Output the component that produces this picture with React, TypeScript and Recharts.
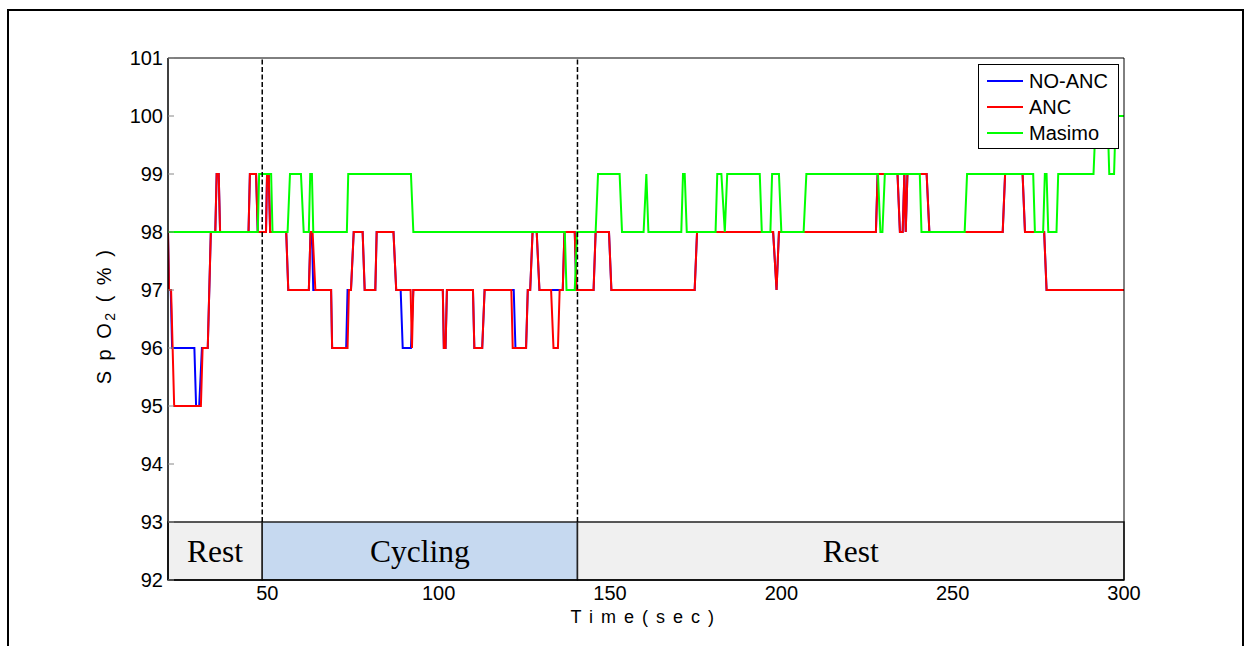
import React from "react";
import { LineChart, Line, XAxis, YAxis, ReferenceLine, ReferenceArea, Label } from "recharts";

const xTicks = [50, 100, 150, 200, 250, 300];
const yTicks = [92, 93, 94, 95, 96, 97, 98, 99, 100, 101];

// [time (s), SpO2 (%)] corners of each trace
const noAncPts: [number, number][] = [
  [21, 98], [21.3, 97], [21.8, 97], [22.2, 96], [28.7, 96], [29.2, 95], [30.1, 95], [30.9, 96],
  [32.6, 96], [33.5, 98], [34.8, 98], [35.2, 99], [35.8, 99], [36.2, 98], [44.5, 98], [44.9, 99],
  [46.7, 99], [47.2, 98], [49.6, 98], [49.9, 99], [50.4, 99], [50.8, 98], [55.5, 98], [56.1, 97],
  [62.1, 97], [62.6, 98], [63.0, 98], [63.4, 97], [68.6, 97], [68.9, 96], [73.0, 96], [73.4, 97],
  [74.4, 97], [75.2, 98], [77.8, 98], [78.4, 97], [81.5, 97], [81.9, 98], [86.8, 98], [87.6, 97],
  [88.9, 97], [89.5, 96], [91.9, 96], [92.6, 97], [101.2, 97], [101.5, 96], [102, 96], [102.4, 97],
  [110, 97], [110.4, 96], [112.7, 96], [113.4, 97], [121.9, 97], [122.4, 96], [125.5, 96], [126, 97],
  [126.7, 97], [127.4, 98], [128.6, 98], [129.4, 97], [136.2, 97], [136.7, 98], [139.7, 98], [140.2, 97],
  [145.2, 97], [145.8, 98], [149.7, 98], [150.4, 97], [174.7, 97], [175.4, 98], [197.6, 98], [198.6, 97],
  [199.3, 98], [227.6, 98], [228.1, 99], [233.9, 99], [234.6, 98], [235.4, 98], [235.9, 99], [236.3, 98],
  [236.8, 99], [242.4, 99], [243.2, 98], [264.6, 98], [265.3, 99], [270.4, 99], [271.1, 98], [276.7, 98],
  [277.4, 97], [300, 97],
];

const ancPts: [number, number][] = [
  [21, 98], [21.3, 97], [21.9, 97], [22.8, 95], [30.6, 95], [31.1, 96], [32.6, 96], [33.5, 98],
  [34.8, 98], [35.2, 99], [35.8, 99], [36.2, 98], [44.5, 98], [44.9, 99], [46.7, 99], [47.2, 98],
  [49.6, 98], [49.9, 99], [50.4, 99], [50.8, 98], [55.5, 98], [56.1, 97], [62.1, 97], [62.6, 98],
  [63.2, 98], [64.0, 97], [68.6, 97], [68.9, 96], [73.4, 96], [73.8, 97], [74.4, 97], [75.2, 98],
  [77.8, 98], [78.4, 97], [81.5, 97], [81.9, 98], [86.8, 98], [87.6, 97], [91.8, 97], [92.2, 96],
  [92.6, 97], [101.2, 97], [101.5, 96], [102, 96], [102.4, 97], [110, 97], [110.4, 96], [112.7, 96],
  [113.4, 97], [121.2, 97], [121.6, 96], [125.5, 96], [126, 97], [126.7, 97], [127.4, 98], [128.6, 98],
  [129.4, 97], [132.8, 97], [133.5, 96], [134.8, 96], [135.3, 97], [136.2, 97], [136.7, 98], [139.7, 98],
  [140.2, 97], [145.2, 97], [145.8, 98], [149.7, 98], [150.4, 97], [174.7, 97], [175.4, 98], [197.6, 98],
  [198.6, 97], [199.3, 98], [227.6, 98], [228.1, 99], [233.9, 99], [234.6, 98], [235.4, 98], [235.9, 99],
  [236.3, 98], [236.8, 99], [242.4, 99], [243.2, 98], [264.6, 98], [265.3, 99], [270.4, 99], [271.1, 98],
  [276.7, 98], [277.4, 97], [300, 97],
];

const masimoPts: [number, number][] = [
  [21, 98], [47.2, 98], [47.6, 99], [51.1, 99], [51.5, 98], [55.9, 98], [56.6, 99], [59.8, 99],
  [60.6, 98], [62.1, 98], [62.5, 99], [63.0, 99], [63.4, 98], [73.2, 98], [73.6, 99], [91.9, 99],
  [92.6, 98], [136.8, 98], [137.3, 97], [139.7, 97], [140.4, 98], [145.8, 98], [146.5, 99], [152.8, 99],
  [153.5, 98], [159.8, 98], [160.6, 99], [161.2, 98], [170.8, 98], [171.3, 99], [171.8, 99], [172.4, 98],
  [180.8, 98], [181.3, 99], [182.5, 99], [183.5, 98], [184.2, 99], [193.7, 99], [194.3, 98], [196.8, 98],
  [197.3, 99], [199.3, 99], [200, 98], [206.5, 98], [207.3, 99], [228.2, 99], [228.9, 98], [229.5, 98],
  [230.2, 99], [240.4, 99], [240.9, 98], [253.5, 98], [254.2, 99], [273.5, 99], [274, 98], [276.4, 98],
  [276.9, 99], [277.4, 99], [277.9, 98], [280.3, 98], [280.8, 99], [291.1, 99], [291.8, 100], [295.2, 100],
  [295.7, 99], [297.1, 99], [297.6, 100], [300, 100],
];

// exercise protocol: phase names and their boundaries in seconds
const phaseNames = ["Rest", "Cycling", "Rest"];
const phaseBounds = [21, 48.5, 140.5, 300];

const phaseFill: Record<string, string> = { Rest: "#f0f0f0", Cycling: "#c6d9f0" };

const series = [
  { name: "NO-ANC", pts: noAncPts, color: "#0000ff" },
  { name: "ANC", pts: ancPts, color: "#ff0000" },
  { name: "Masimo", pts: masimoPts, color: "#00ff00" },
];

const sans = "'Liberation Sans', Arial, sans-serif";
const serif = "'Liberation Serif', 'Times New Roman', serif";

const YTitle = () => (
  <text
    transform="translate(104,316) rotate(-90)"
    textAnchor="middle"
    dominantBaseline="central"
    fontFamily={sans}
    fontSize={20}
    letterSpacing={2.5}
    fill="#000"
  >
    S p O
    <tspan fontSize={14} dy={6}>2</tspan>
    <tspan dy={-6}>{" ( % )"}</tspan>
  </text>
);

const XTitle = () => (
  <text x={643} y={617} textAnchor="middle" dominantBaseline="central" fontFamily={sans} fontSize={18} letterSpacing={1.5} fill="#000">
    T i m e ( s e c )
  </text>
);

export default function App() {
  const tickStyle = { fontSize: 20, fontFamily: sans, fill: "#000" };
  return (
    <div style={{ position: "fixed", left: 0, top: 0, width: 1244, height: 646, background: "#fff", overflow: "hidden" }}>
      <div
        style={{
          position: "absolute",
          left: 7,
          top: 9,
          width: 1237,
          height: 720,
          border: "2px solid #000",
          boxSizing: "border-box",
        }}
      />
      <div style={{ position: "absolute", left: 0, top: 0 }}>
        <LineChart width={1244} height={646} margin={{ top: 57, right: 119, bottom: 26, left: 108 }}>
          <XAxis
            dataKey="t"
            type="number"
            domain={[21, 300]}
            ticks={xTicks}
            allowDataOverflow
            height={40}
            tickLine={false}
            tickSize={0}
            tickMargin={6}
            tick={tickStyle}
            axisLine={{ stroke: "#000", strokeWidth: 1.5 }}
          >
            <Label content={<XTitle />} />
          </XAxis>
          <XAxis
            xAxisId="top"
            orientation="top"
            type="number"
            domain={[21, 300]}
            ticks={xTicks}
            allowDataOverflow
            height={1}
            tick={false}
            tickSize={-6}
            tickLine={{ stroke: "#888" }}
            axisLine={{ stroke: "#000" }}
          />
          <YAxis
            type="number"
            domain={[92, 101]}
            ticks={yTicks}
            allowDataOverflow
            width={60}
            tickSize={-6}
            tickMargin={11}
            tick={tickStyle}
            tickLine={{ stroke: "#888" }}
            axisLine={{ stroke: "#000", strokeWidth: 1.5 }}
          >
            <Label content={<YTitle />} />
          </YAxis>
          <YAxis
            yAxisId="right"
            orientation="right"
            type="number"
            domain={[92, 101]}
            ticks={yTicks}
            width={1}
            tick={false}
            tickSize={-6}
            tickLine={{ stroke: "#888" }}
            axisLine={{ stroke: "#000" }}
          />

          {series.map((s) => (
            <Line
              key={s.name}
              data={s.pts.map(([t, v]) => ({ t, v }))}
              dataKey="v"
              name={s.name}
              type="linear"
              stroke={s.color}
              strokeWidth={2}
              dot={false}
              activeDot={false}
              isAnimationActive={false}
            />
          ))}

          {phaseBounds.slice(1, -1).map((b) => (
            <ReferenceLine
              key={b}
              segment={[{ x: b, y: 93 }, { x: b, y: 101 }]}
              stroke="#000"
              strokeWidth={1.5}
              strokeDasharray="5 2.5"
            />
          ))}

          {phaseNames.map((name, i) => (
            <ReferenceArea
              key={i}
              x1={phaseBounds[i]}
              x2={phaseBounds[i + 1]}
              y1={92}
              y2={93}
              fill={phaseFill[name]}
              fillOpacity={1}
              stroke="#222"
              strokeWidth={1.5}
            >
              <Label value={name} position="center" fontFamily={serif} fontSize={31.5} fill="#000" />
            </ReferenceArea>
          ))}
        </LineChart>
      </div>

      <div
        style={{
          position: "absolute",
          left: 978,
          top: 64,
          width: 141,
          height: 85,
          border: "1px solid #000",
          background: "#fff",
          boxSizing: "border-box",
          paddingTop: 3,
        }}
      >
        {series.map((s) => (
          <div key={s.name} style={{ display: "flex", alignItems: "center", height: 26 }}>
            <div style={{ marginLeft: 8, width: 36, height: 2, background: s.color }} />
            <span style={{ marginLeft: 6, fontFamily: sans, fontSize: 20, lineHeight: "26px", color: "#000" }}>{s.name}</span>
          </div>
        ))}
      </div>
    </div>
  );
}
